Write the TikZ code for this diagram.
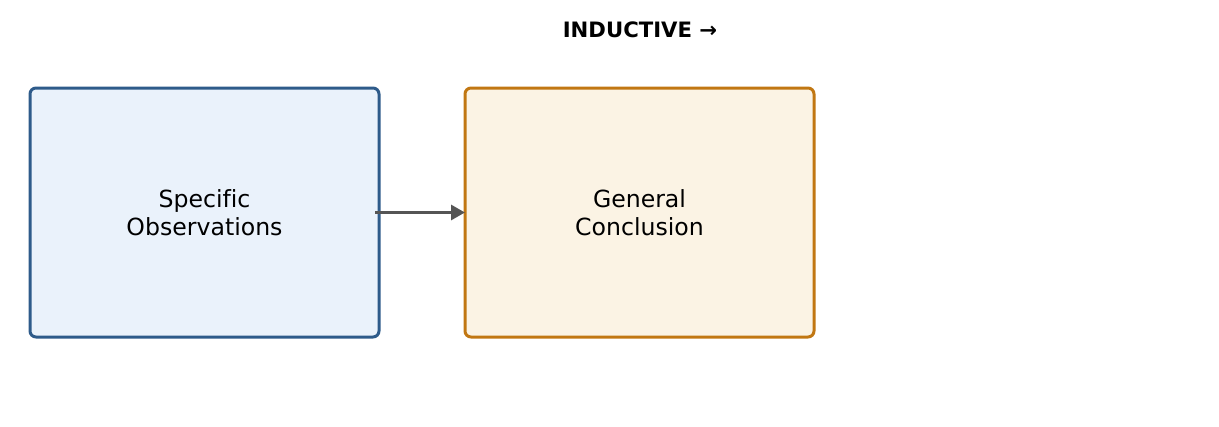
\documentclass[tikz,border=0pt]{standalone}
\usepackage{fontspec}
\setmainfont{DejaVu Sans}[Ligatures={NoCommon}]
\usetikzlibrary{arrows.meta}
\definecolor{bluebd}{HTML}{2E5B8A}
\definecolor{bluefill}{HTML}{EAF2FB}
\definecolor{orgbd}{HTML}{C17712}
\definecolor{orgfill}{HTML}{FBF3E4}
\definecolor{arrgray}{HTML}{555555}
\tikzset{
  box/.style={rounded corners=6pt, line width=3pt, minimum width=349pt, minimum height=249pt,
    align=center, font=\fontsize{23.6}{28}\selectfont, inner sep=0pt, outer sep=0pt},
  conn/.style={arrgray, line width=3pt, -{Triangle[length=14pt,width=15pt]}},
  title/.style={font=\bfseries\fontsize{21.2}{24}\selectfont}
}
\begin{document}
\begin{tikzpicture}[x=1pt,y=-1pt]
\useasboundingbox (0,0) rectangle (1219,426);
\node[title] (t) at (640,30) {INDUCTIVE →};
\node[box, draw=bluebd, fill=bluefill] (obs) at (204.5,212.5) {Specific\\Observations};
\node[box, draw=orgbd, fill=orgfill] (gen) at (639.5,212.5) {General\\Conclusion};
\draw[conn] ([xshift=-4pt]obs.east) -- (gen.west);
\end{tikzpicture}
\end{document}
